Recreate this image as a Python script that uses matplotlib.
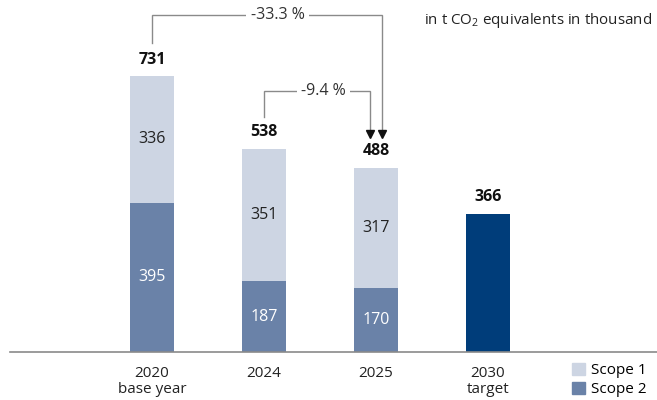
import matplotlib.pyplot as plt
import matplotlib as mpl
from matplotlib.patches import Patch

mpl.rcParams['font.family'] = 'Open Sans'
mpl.rcParams['mathtext.fontset'] = 'custom'
mpl.rcParams['mathtext.rm'] = 'Open Sans'

# Emissions in t CO2 equivalents (thousand)
years = ['2020\nbase year', '2024', '2025', '2030\ntarget']
scope2 = [395, 187, 170]
scope1 = [336, 351, 317]
totals = [731, 538, 488]
target = 366
changes = ['-33.3 %', '-9.4 %']

c_scope1 = '#cdd5e3'
c_scope2 = '#6a82a8'
c_target = '#003d7a'
c_line = '#8a8a8a'

fig = plt.figure(figsize=(6.57, 4.0), dpi=100)
ax = fig.add_axes([10 / 657, 48 / 400, 647 / 657, 352 / 400])

x = list(range(len(years)))
width = 0.4

ax.bar(x[:3], scope2, width, color=c_scope2, label='Scope 2')
ax.bar(x[:3], scope1, width, bottom=scope2, color=c_scope1, label='Scope 1')
ax.bar(x[3], target, width, color=c_target)

# values inside segments
for i in range(3):
    ax.text(x[i], scope2[i] / 2, str(scope2[i]), ha='center', va='center',
            color='white', fontsize=11.5)
    ax.text(x[i], scope2[i] + scope1[i] / 2, str(scope1[i]), ha='center',
            va='center', color='#222222', fontsize=11.5)

# totals on top
for xi, v in zip(x, totals + [target]):
    ax.annotate(str(v), (xi, v), xytext=(0, 6), textcoords='offset points',
                ha='center', va='bottom', fontsize=11.5, fontweight='bold',
                color='#111111')

# brackets with percentage change towards 2025
def bracket(x0, y0, x1, ytop, ytip, label, xlabel):
    ax.plot([x0, x0, x1, x1], [y0, ytop, ytop, ytip + 15], color=c_line,
            lw=1, solid_joinstyle='miter', clip_on=False)
    ax.plot([x1], [ytip + 10], marker='v', color='#111111', markersize=6,
            clip_on=False)
    ax.text(xlabel, ytop, label, ha='center', va='center', fontsize=11.5,
            color='#333333',
            bbox=dict(facecolor='white', edgecolor='none', pad=3))

bracket(x[0], totals[0] + 87, x[2] + 0.05, 892, totals[2] + 80,
        changes[0], 1.12)
bracket(x[1], totals[1] + 84, x[2] - 0.05, 691, totals[2] + 80,
        changes[1], 1.53)

fig.text(652 / 657, 1 - 20 / 400, 'in t CO$_2$ equivalents in thousand',
         ha='right', va='center', fontsize=10.9, color='#222222')

ax.set_xlim(-1.268, 4.509)
ax.set_ylim(0, 932)
ax.set_xticks(x)
ax.set_xticklabels(years, fontsize=11, color='#222222', linespacing=1.1)
ax.tick_params(axis='x', length=0, pad=10)
ax.set_yticks([])
for side in ['top', 'right', 'left']:
    ax.spines[side].set_visible(False)
ax.spines['bottom'].set_color('#8a8a8a')
ax.spines['bottom'].set_linewidth(1.2)

handles = [Patch(color=c_scope1, label='Scope 1'),
           Patch(color=c_scope2, label='Scope 2')]
fig.legend(handles=handles, loc='lower right', bbox_to_anchor=(1.0, -8 / 400),
           frameon=False, fontsize=11, handlelength=0.8, handleheight=0.8,
           handletextpad=0.4, labelspacing=0.25, borderaxespad=0.3)

fig.savefig('out.png', dpi=100)
